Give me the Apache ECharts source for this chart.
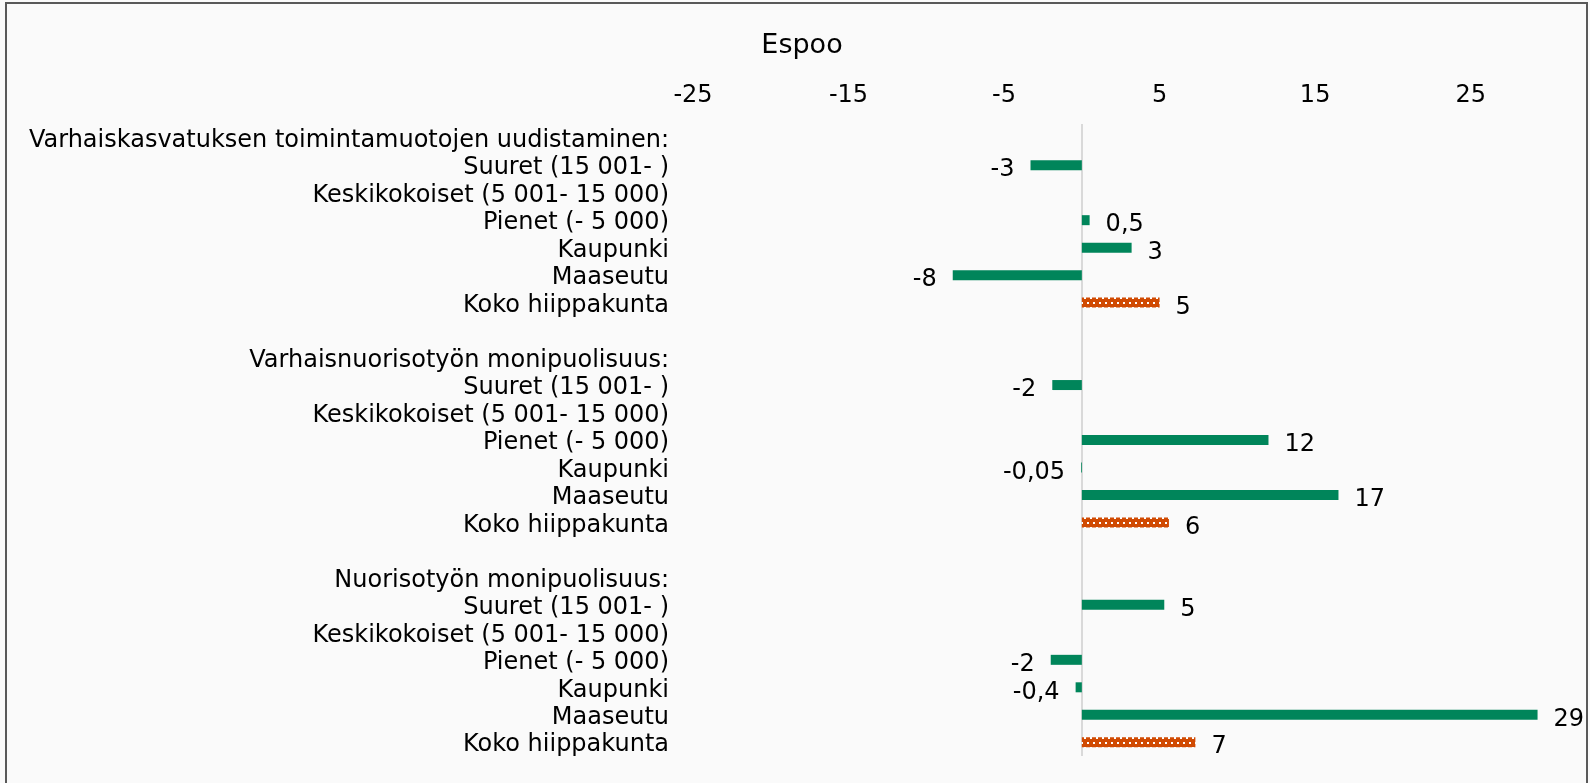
<!DOCTYPE html>
<html>
<head>
<meta charset="utf-8">
<style>
  html, body { margin: 0; padding: 0; background: #ffffff; }
  #chart { width: 1590px; height: 783px; }
</style>
<script src="https://cdn.jsdelivr.net/npm/echarts@6/dist/echarts.min.js"></script>
</head>
<body>
<div id="chart"></div>
<script>
// ---- data ----
const titleText = 'Espoo';
const categories = [
  'Varhaiskasvatuksen toimintamuotojen uudistaminen:',
  'Suuret (15 001- )',
  'Keskikokoiset (5 001- 15 000)',
  'Pienet (- 5 000)',
  'Kaupunki',
  'Maaseutu',
  'Koko hiippakunta',
  '',
  'Varhaisnuorisotyön monipuolisuus:',
  'Suuret (15 001- )',
  'Keskikokoiset (5 001- 15 000)',
  'Pienet (- 5 000)',
  'Kaupunki',
  'Maaseutu',
  'Koko hiippakunta',
  '',
  'Nuorisotyön monipuolisuus:',
  'Suuret (15 001- )',
  'Keskikokoiset (5 001- 15 000)',
  'Pienet (- 5 000)',
  'Kaupunki',
  'Maaseutu',
  'Koko hiippakunta'
];
// Group values (green bars); null = no bar
const groupValues = [
  null, -3.3, null, 0.5, 3.2, -8.3, null,
  null,
  null, -1.9, null, 12.0, -0.05, 16.5, null,
  null,
  null, 5.3, null, -2.0, -0.4, 29.3, null
];
// Whole diocese values (patterned orange bars)
const totalValues = [
  null, null, null, null, null, null, 5.0,
  null,
  null, null, null, null, null, null, 5.6,
  null,
  null, null, null, null, null, null, 7.3
];
// Data label texts as printed on the chart
const valueLabels = [
  '', '-3', '', '0,5', '3', '-8', '5',
  '',
  '', '-2', '', '12', '-0,05', '17', '6',
  '',
  '', '5', '', '-2', '-0,4', '29', '7'
];
const tickLabels = ['-25', '-15', '-5', '5', '15', '25'];

// ---- styling helpers ----
const FONT = 'DejaVu Sans';
const FS = 24;
const GREEN = '#00855A';
const ORANGE = '#D04A02';

function makePattern() {
  const c = document.createElement('canvas');
  c.width = 6; c.height = 10;
  const g = c.getContext('2d');
  g.fillStyle = ORANGE;
  g.fillRect(0, 0, 6, 10);
  g.fillStyle = '#ffffff';
  g.fillRect(1, 2, 2, 2);
  g.fillRect(4, 7, 2, 2);
  return c;
}

function mkData(vals) {
  return vals.map((v, i) => {
    if (v === null) return { value: null };
    const pos = v >= 0 ? 'right' : 'left';
    return {
      value: v,
      label: { show: true, position: pos, formatter: valueLabels[i] }
    };
  });
}

const chart = echarts.init(document.getElementById('chart'), null, { renderer: 'canvas' });

const labelStyle = {
  distance: 16,
  offset: [0, 5],
  fontFamily: FONT,
  fontSize: FS,
  color: '#000'
};

const option = {
  backgroundColor: '#fafafa',
  animation: false,
  title: {
    text: titleText,
    left: 797,
    top: 27,
    textAlign: 'center',
    textStyle: { fontFamily: FONT, fontSize: 27, fontWeight: 'normal', color: '#000' }
  },
  graphic: [{
    type: 'rect',
    shape: { x: 6, y: 3, width: 1581, height: 800 },
    style: { fill: 'none', stroke: '#595959', lineWidth: 2 },
    silent: true,
    z: 100
  }],
  grid: { left: 693, right: 26, top: 124, bottom: 27 },
  xAxis: {
    type: 'value',
    position: 'top',
    min: -25,
    max: 31,
    interval: 10,
    axisLine: { show: false },
    axisTick: { show: false },
    splitLine: { show: false },
    axisLabel: {
      margin: 16,
      fontFamily: FONT,
      fontSize: FS,
      color: '#000',
      showMaxLabel: false,
      formatter: function (v) {
        const s = String(v);
        return tickLabels.indexOf(s) >= 0 ? s : '';
      }
    }
  },
  yAxis: {
    type: 'category',
    inverse: true,
    data: categories,
    axisLine: { show: false },
    axisTick: { show: false },
    splitLine: { show: false },
    axisLabel: {
      margin: 24,
      fontFamily: FONT,
      fontSize: FS,
      color: '#000',
      interval: 0,
      formatter: function (v) { return v ? '{t|' + v + '}' : ''; },
      rich: {
        t: { fontFamily: FONT, fontSize: FS, color: '#000', padding: [6, 0, 0, 0] }
      }
    }
  },
  series: [
    {
      type: 'bar',
      name: 'groups',
      data: mkData(groupValues),
      barWidth: 10,
      barGap: '-100%',
      itemStyle: { color: GREEN },
      label: labelStyle,
      markLine: {
        silent: true,
        symbol: 'none',
        label: { show: false },
        lineStyle: { color: '#d9d9d9', width: 2, type: 'solid' },
        data: [{ xAxis: 0 }],
        z: 1
      },
      z: 3
    },
    {
      type: 'bar',
      name: 'total',
      data: mkData(totalValues),
      barWidth: 10,
      barGap: '-100%',
      itemStyle: { color: { image: makePattern(), repeat: 'repeat' } },
      label: labelStyle,
      z: 3
    }
  ]
};
chart.setOption(option);
</script>
</body>
</html>
